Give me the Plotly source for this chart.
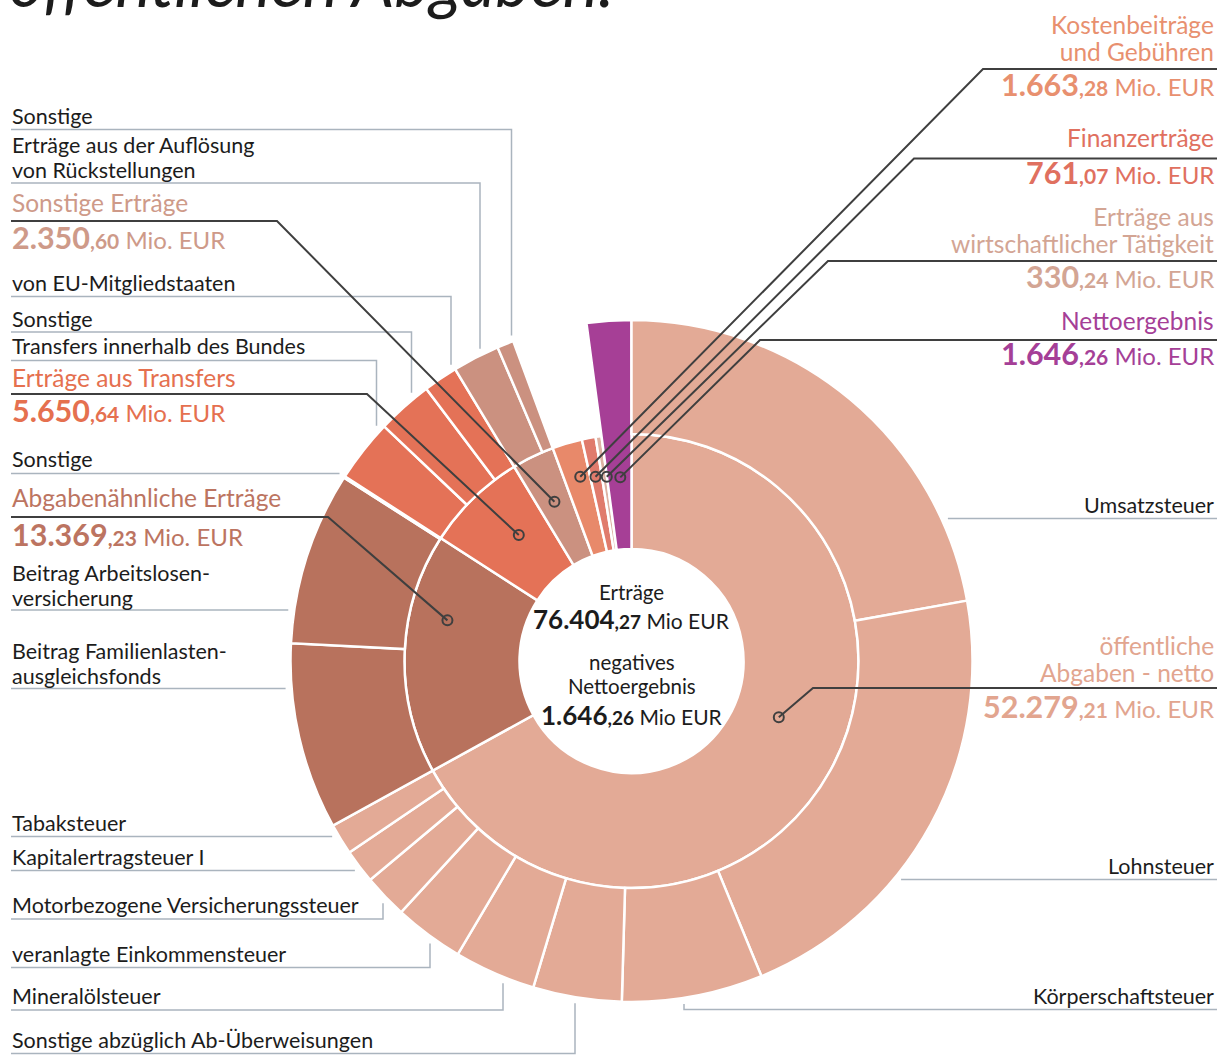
import math
import plotly.graph_objects as go

W, H = 1225, 1055

# ---------------- data ----------------
ertraege_total = 76404.27
netto_label = "Nettoergebnis"
netto_value = 1646.26

inner_labels = ["öffentliche<br>Abgaben - netto", "Abgabenähnliche Erträge", "Erträge aus Transfers",
                "Sonstige Erträge", "Kostenbeiträge<br>und Gebühren", "Finanzerträge",
                "Erträge aus<br>wirtschaftlicher Tätigkeit"]
inner_values = [52279.21, 13369.23, 5650.64, 2350.60, 1663.28, 761.07, 330.24]

abgaben_labels = ["Umsatzsteuer", "Lohnsteuer", "Körperschaftsteuer",
                  "Sonstige abzüglich Ab-Überweisungen", "Mineralölsteuer",
                  "veranlagte Einkommensteuer", "Motorbezogene Versicherungssteuer",
                  "Kapitalertragsteuer I", "Tabaksteuer"]
abgaben_values = [17301, 16868, 5210, 3278, 3011, 2578, 1633, 1255, 1145.21]

abgabenaehnlich_labels = ["Beitrag Familienlasten-<br>ausgleichsfonds",
                          "Beitrag Arbeitslosen-<br>versicherung", "Sonstige"]
abgabenaehnlich_values = [6910, 6399.23, 60]

transfers_labels = ["Transfers innerhalb des Bundes", "Sonstige", "von EU-Mitgliedstaaten"]
transfers_values = [2320, 2060, 1270.64]

sonstige_labels = ["Erträge aus der Auflösung<br>von Rückstellungen", "Sonstige"]
sonstige_values = [1740, 610.60]

title_text = "öffentlichen Abgaben."
center_title = "Erträge"
center_netto_title = "negatives<br>Nettoergebnis"

# ---------------- styles / layout ----------------
inner_colors = ["#E3AA96", "#B8725D", "#E47257", "#CB9180", "#E8896A", "#E07B6C", "#DDB2A3"]
netto_color = "#A63F96"
text_colors = ["#E2A58F", "#BC7461", "#E5704F", "#CE9A89", "#E8906F", "#E0705F", "#D3A594"]
netto_text_color = "#A53F97"
FONT = "Lato"
BLACK = "#1c1c1c"
GRAY_LINE = "#AAB4BE"
DARK_LINE = "#3f3f3f"

LABEL_SIZE = 21.5
TITLE_SIZE = 24.5
VAL_BIG, VAL_SMALL, VAL_UNIT = 30.5, 21, 24

CX, CY = 631.5, 661.0
R0, R1, R2, RMAX = 112.0, 227.0, 341.0, 345.0
GAP = 6.0

outer_children = [
    (abgaben_labels, abgaben_values),
    (abgabenaehnlich_labels, abgabenaehnlich_values),
    (transfers_labels, transfers_values),
    (sonstige_labels, sonstige_values),
]
# side, last-line baseline, underline y, mode, x of vertical
outer_label_layout = [
    [("R", 514, 518.5, "h", None), ("R", 875, 879.5, "h", None), ("R", 1005, 1009.5, "v", 684),
     ("L", 1049, 1053.5, "v", 575), ("L", 1005, 1010, "v", 503), ("L", 963, 967.5, "v", 430),
     ("L", 914, 919, "v", 383), ("L", 866, 870.5, "h", None), ("L", 832, 836.5, "h", None)],
    [("L", 685, 688.5, "h", None), ("L", 607, 610, "h", None), ("L", 468, 473.5, "h", None)],
    [("L", 355, 360.5, "v", 376.5), ("L", 328, 332, "v", 411.5), ("L", 292, 296.5, "v", 451)],
    [("L", 179, 183, "v", 480), ("L", 125, 129.5, "v", 511.5)],
]
# side, title last baseline, line y, knee x, value baseline, dot fraction in segment, dot radius
parent_callouts = [
    ("R", 683, 688, 813, 719, 0.46, 157.7),
    ("L", 507.5, 517, 328, 547, 0.67, 188.5),
    ("L", 387.5, 394, 367, 423, 0.59, 169.0),
    ("L", 212.5, 221, 277, 250, 0.49, 176.9),
    ("R", 62, 69, 983, 97, 0.62, 191.3),
    ("R", 148, 158.5, 914, 185, 0.45, 187.8),
    ("R", 254, 261, 828, 288.5, 0.97, 185.9),
]
netto_callout = ("R", 330.5, 340, 760, 365.5, 0.54, 184.0)

LEFT_X, RIGHT_X = 10, 1216


def px(x):
    return x / W


def py(y):
    return 1 - y / H


def polar_px(angle, radius):
    a = math.radians(angle)
    return CX + radius * math.sin(a), CY - radius * math.cos(a)


def de_parts(v):
    s = f"{v:,.2f}"
    ip, dec = s.split(".")
    return ip.replace(",", "."), dec


def value_html(v, big, small, unit):
    ip, dec = de_parts(v)
    return (f"<span style='font-size:{big}px'><b>{ip}</b></span>"
            f"<span style='font-size:{small}px'><b>,{dec}</b></span> {unit}")


full_total = ertraege_total + netto_value
deg = 360.0 / full_total

# ---------------- bars ----------------
thetas, widths, bases, rs, colors, hover = [], [], [], [], [], []
starts = []
cum = 0.0
for lab, val, col in zip(inner_labels, inner_values, inner_colors):
    w = val * deg
    starts.append(cum)
    thetas.append(cum + w / 2); widths.append(w); bases.append(R0); rs.append(R1 - R0)
    colors.append(col); hover.append(f"{lab.replace('<br>', ' ')}: {val}")
    cum += w
netto_start = cum
w = netto_value * deg
thetas.append(cum + w / 2); widths.append(w); bases.append(R0); rs.append(R2 - R0)
colors.append(netto_color); hover.append(f"{netto_label}: {netto_value}")

for gi, (labs, vals) in enumerate(outer_children):
    c = starts[gi]
    for lab, val in zip(labs, vals):
        w = val * deg
        thetas.append(c + w / 2); widths.append(w); bases.append(R1); rs.append(R2 - R1)
        colors.append(inner_colors[gi]); hover.append(f"{lab.replace('<br>', ' ')}: {val}")
        c += w

fig = go.Figure()
fig.add_trace(go.Barpolar(
    r=rs, base=bases, theta=thetas, width=widths,
    marker=dict(color=colors, line=dict(color="white", width=2.5)),
    hovertext=hover, hoverinfo="text", showlegend=False,
))

shapes = []
annotations = []


def add_text(text, x, baseline, size, color, xanchor, spacing=25.5, style="normal", desc_size=None):
    lines = text.split("<br>")
    ds = desc_size if desc_size else size
    if len(lines) > 1:
        base_size = spacing / 1.3
        txt = "<br>".join(f"<span style='font-size:{size}px'>{l}</span>" for l in lines)
    else:
        base_size = size
        txt = text
    annotations.append(dict(
        text=txt, x=px(x), y=py(baseline + 0.213 * ds + 1), xref="paper", yref="paper",
        xanchor=xanchor, yanchor="bottom", showarrow=False,
        align=xanchor if xanchor != "center" else "center",
        font=dict(family=FONT, size=base_size, color=color, style=style),
    ))


def add_path(points, color, width):
    d = "M " + " L ".join(f"{px(x)},{py(y)}" for x, y in points)
    shapes.append(dict(type="path", path=d, xref="paper", yref="paper",
                       line=dict(color=color, width=width), layer="above"))


# outer labels
for gi, (labs, vals) in enumerate(outer_children):
    for ci, lab in enumerate(labs):
        side, base_y, uy, mode, vx = outer_label_layout[gi][ci]
        xa = "left" if side == "L" else "right"
        tx = LEFT_X if side == "L" else RIGHT_X
        add_text(lab, tx, base_y, LABEL_SIZE, BLACK, xa, spacing=25.3)
        start = 11 if side == "L" else 1217
        if mode == "h":
            dx = math.sqrt((R2 + GAP) ** 2 - (uy - CY) ** 2)
            ex = CX - dx if side == "L" else CX + dx
            add_path([(start, uy), (ex, uy)], GRAY_LINE, 1.5)
        else:
            dy = math.sqrt((R2 + GAP) ** 2 - (vx - CX) ** 2)
            ey = CY - dy if uy < CY else CY + dy
            add_path([(start, uy), (vx, uy), (vx, ey)], GRAY_LINE, 1.5)


# parent callouts
def callout(label, value, color, seg_start, seg_w, spec):
    side, tb, ly, kx, vb, frac, dr = spec
    xa = "left" if side == "L" else "right"
    tx = LEFT_X if side == "L" else RIGHT_X
    add_text(label, tx, tb, TITLE_SIZE, color, xa, spacing=26.5)
    add_text(value_html(value, VAL_BIG, VAL_SMALL, "Mio. EUR"), tx, vb, VAL_UNIT, color, xa,
             desc_size=VAL_BIG)
    dxp, dyp = polar_px(seg_start + frac * seg_w, dr)
    start = 11 if side == "L" else 1217
    add_path([(start, ly), (kx, ly), (dxp, dyp)], DARK_LINE, 2)
    rr = 5
    shapes.append(dict(type="circle", xref="paper", yref="paper",
                       x0=px(dxp - rr), x1=px(dxp + rr), y0=py(dyp + rr), y1=py(dyp - rr),
                       line=dict(color=DARK_LINE, width=2), fillcolor="rgba(0,0,0,0)", layer="above"))


for i, (lab, val) in enumerate(zip(inner_labels, inner_values)):
    callout(lab, val, text_colors[i], starts[i], val * deg, parent_callouts[i])
callout(netto_label, netto_value, netto_text_color, netto_start, netto_value * deg, netto_callout)

# center text
add_text(center_title, CX, 601, 20.5, BLACK, "center")
add_text(value_html(ertraege_total, 26, 19, "Mio EUR"), CX, 630, 21, BLACK, "center", desc_size=26)
add_text(center_netto_title, CX, 695, 20.5, BLACK, "center", spacing=24)
add_text(value_html(netto_value, 26, 19, "Mio EUR"), CX, 726, 21, BLACK, "center", desc_size=26)

# title (cut off at the top)
add_text(title_text, 7, 8, 67, BLACK, "left", style="italic")

fig.update_layout(
    width=W, height=H, margin=dict(l=0, r=0, t=0, b=0),
    paper_bgcolor="white", plot_bgcolor="white", showlegend=False,
    polar=dict(
        domain=dict(x=[(CX - RMAX) / W, (CX + RMAX) / W],
                    y=[(H - CY - RMAX) / H, (H - CY + RMAX) / H]),
        bgcolor="rgba(0,0,0,0)", bargap=0,
        radialaxis=dict(visible=False, range=[0, RMAX]),
        angularaxis=dict(visible=False, rotation=90, direction="clockwise"),
    ),
    shapes=shapes, annotations=annotations,
    font=dict(family=FONT),
)

fig.write_html("out.html", config={"displayModeBar": False},
               post_script="document.body.style.margin='0px';")
